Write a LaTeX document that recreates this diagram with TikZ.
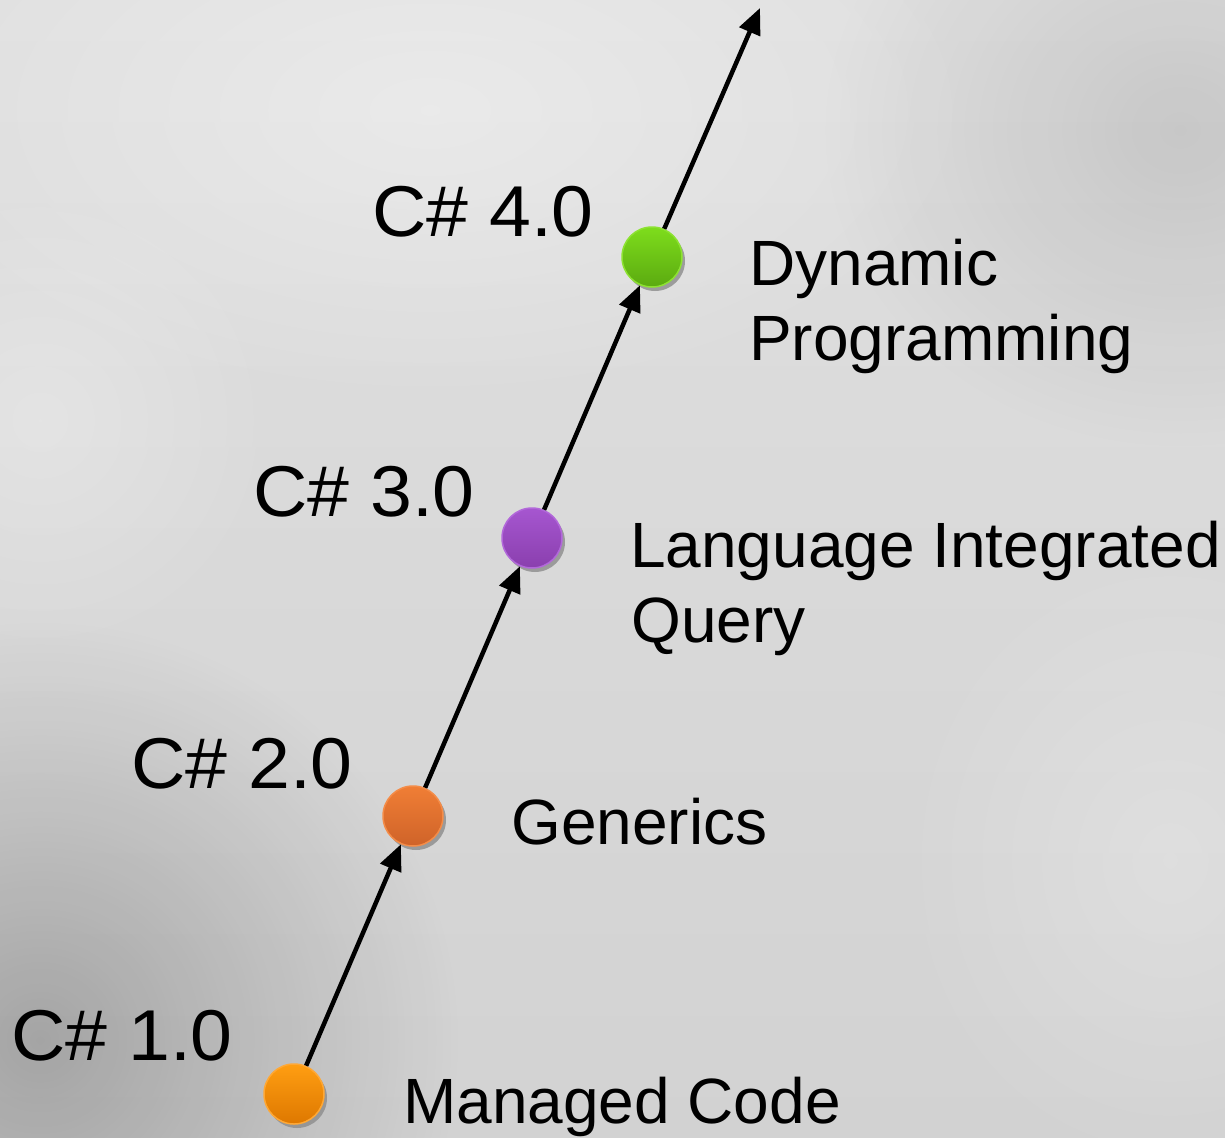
\documentclass[tikz,border=0pt]{standalone}
\usepackage{fontspec}
\setmainfont{Liberation Sans}
\usetikzlibrary{arrows.meta,fadings}
\definecolor{bgtop}{HTML}{E0E0E0}
\definecolor{bgbot}{HTML}{D2D2D2}
\definecolor{oaT}{HTML}{FF9E12}\definecolor{oaB}{HTML}{DE7800}\definecolor{oaE}{HTML}{FFA835}
\definecolor{obT}{HTML}{F07E35}\definecolor{obB}{HTML}{CF6329}\definecolor{obE}{HTML}{F48C48}
\definecolor{puT}{HTML}{A656D0}\definecolor{puB}{HTML}{8A3FAE}\definecolor{puE}{HTML}{B268DA}
\definecolor{grT}{HTML}{7EDD1C}\definecolor{grB}{HTML}{5BAA10}\definecolor{grE}{HTML}{8DE232}
\tikzfading[name=softfade, inner color=transparent!0, outer color=transparent!100]
\begin{document}
\begin{tikzpicture}[x=1pt,y=-1pt,
  ver/.style={font=\fontsize{72}{86}\selectfont, anchor=base west, inner sep=0pt},
  lbl/.style={font=\fontsize{64}{75}\selectfont, anchor=base west, inner sep=0pt},
  dot/.style={circle, minimum size=60pt, inner sep=0pt, line width=1.5pt},
  shadowdot/.style={circle, minimum size=60pt, inner sep=0pt, fill=black!45, opacity=0.8},
  arr/.style={line width=4.5pt, -{Triangle[length=26pt,width=22pt]}},
  blob/.style={path fading=softfade},
]
% background
\shade[top color=bgtop, bottom color=bgbot] (0,0) rectangle (1225,1137);
\useasboundingbox (0,0) rectangle (1225,1137);
\fill[black, opacity=0.22, blob] (40,1040) ellipse [x radius=420, y radius=420];
\fill[black, opacity=0.10, blob] (1180,130) ellipse [x radius=360, y radius=320];
\fill[white, opacity=0.35, blob] (430,110) ellipse [x radius=560, y radius=300];
\fill[white, opacity=0.25, blob] (40,420) ellipse [x radius=240, y radius=240];
\fill[white, opacity=0.22, blob] (1170,860) ellipse [x radius=280, y radius=320];

% shadows
\node[shadowdot] (s1) at (297,1098) {};
\node[shadowdot] (s2) at (416,820) {};
\node[shadowdot] (s3) at (535,542) {};
\node[shadowdot] (s4) at (655,261) {};

% dots
\node[dot, top color=oaT, bottom color=oaB, draw=oaE] (c1) at (294,1094) {};
\node[dot, top color=obT, bottom color=obB, draw=obE] (c2) at (413,816) {};
\node[dot, top color=puT, bottom color=puB, draw=puE] (c3) at (532,538) {};
\node[dot, top color=grT, bottom color=grB, draw=grE] (c4) at (652,257) {};
\coordinate (top) at (760,8);

% connectors
\draw[arr] (c1) -- (c2);
\draw[arr] (c2) -- (c3);
\draw[arr] (c3) -- (c4);
\draw[arr] (c4) -- (top);

% version labels
\node[ver] (v4) at (372,236) {\scalebox{1.045}[1]{C\# 4.0}};
\node[ver] (v3) at (253,516) {\scalebox{1.045}[1]{C\# 3.0}};
\node[ver] (v2) at (131,788) {\scalebox{1.045}[1]{C\# 2.0}};
\node[ver] (v1) at (11,1060) {\scalebox{1.045}[1]{C\# 1.0}};

% feature labels
\node[lbl] (f4a) at (749,285) {Dynamic};
\node[lbl] (f4b) at (749,360) {Programming};
\node[lbl] (f3a) at (630,567) {Language Integrated};
\node[lbl] (f3b) at (631,642) {Query};
\node[lbl] (f2) at (511,844) {Generics};
\node[lbl] (f1) at (403,1123) {Managed Code};
\end{tikzpicture}
\end{document}
